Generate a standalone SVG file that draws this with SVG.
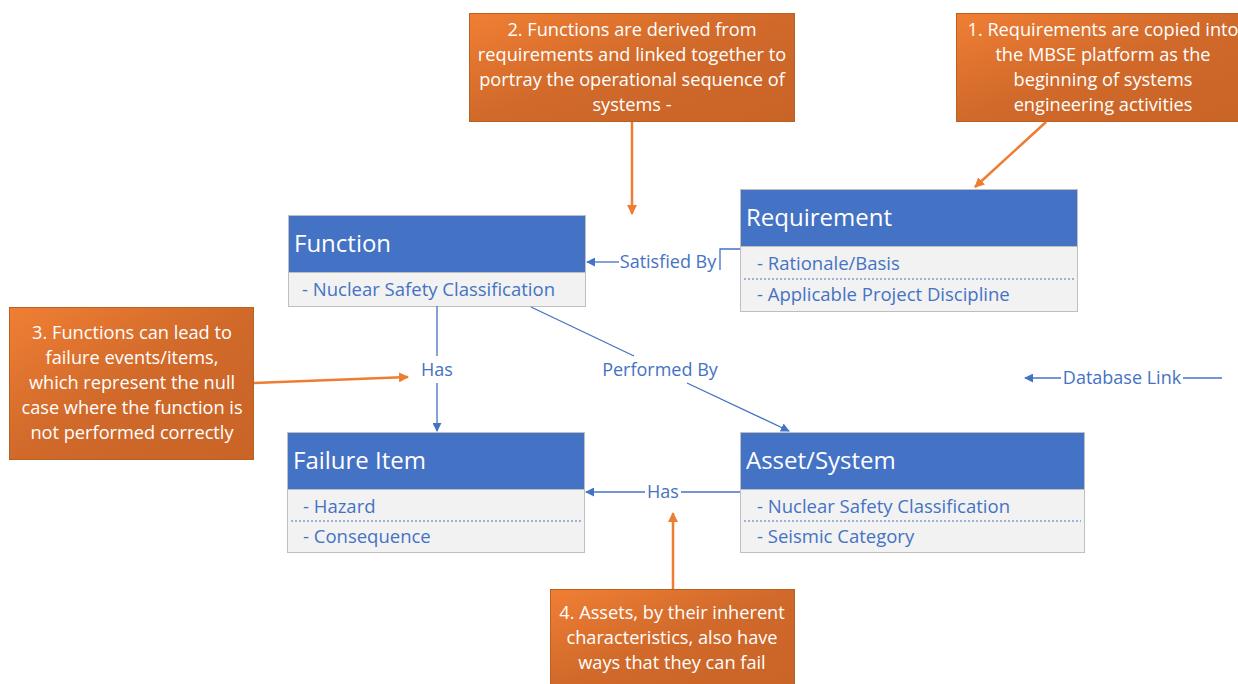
<svg xmlns="http://www.w3.org/2000/svg" width="1238" height="684" viewBox="0 0 1238 684">
<defs>
<linearGradient id="og" x1="0" y1="0" x2="1" y2="1">
<stop offset="0" stop-color="#F07F34"/>
<stop offset="0.5" stop-color="#D0692A"/>
<stop offset="1" stop-color="#C96427"/>
</linearGradient>
<marker id="ab" viewBox="0 0 10 10" refX="9" refY="5" markerWidth="9" markerHeight="9" markerUnits="userSpaceOnUse" orient="auto">
<path d="M0,0 L10,5 L0,10 z" fill="#4472C4"/>
</marker>
<marker id="ao" viewBox="0 0 10 10" refX="9" refY="5" markerWidth="10" markerHeight="10" markerUnits="userSpaceOnUse" orient="auto">
<path d="M0,0 L10,5 L0,10 z" fill="#ED7D31"/>
</marker>
</defs>
<style>
.hdr{fill:#4472C4;stroke:#BFBFBF;stroke-width:1}
.bdy{fill:#F2F2F2;stroke:#BFBFBF;stroke-width:1}
.ht{font-family:"Open Sans","Liberation Sans",sans-serif;font-size:24px;fill:#FFFFFF}
.bt{font-family:"Open Sans","Liberation Sans",sans-serif;font-size:18.5px;fill:#4472C4}
.sep{stroke:#4472C4;stroke-width:1;stroke-dasharray:2,2}
.co{fill:url(#og);stroke:#B8621F;stroke-width:1}
.ct{font-family:"Open Sans","Liberation Sans",sans-serif;font-size:18.2px;fill:#FFFFFF;text-anchor:middle}
.bl{stroke:#4472C4;stroke-width:1.3;fill:none}
.ol{stroke:#ED7D31;stroke-width:2.5;fill:none}
.lt{font-family:"Open Sans","Liberation Sans",sans-serif;font-size:18px;fill:#4472C4;text-anchor:middle}
</style>
<rect width="1238" height="684" fill="#FFFFFF"/>

<g id="callout1">
<rect class="co" x="956.5" y="13.5" width="290" height="108"/>
<text class="ct" x="1103" y="36">1. Requirements are copied into</text>
<text class="ct" x="1103" y="61">the MBSE platform as the</text>
<text class="ct" x="1103" y="86">beginning of systems</text>
<text class="ct" x="1103" y="111">engineering activities</text>
</g>

<g id="callout2">
<rect class="co" x="469.5" y="13.5" width="325" height="108"/>
<text class="ct" x="632" y="36">2. Functions are derived from</text>
<text class="ct" x="632" y="61">requirements and linked together to</text>
<text class="ct" x="632" y="86">portray the operational sequence of</text>
<text class="ct" x="632" y="111">systems -</text>
</g>

<g id="callout3">
<rect class="co" x="9.5" y="307.5" width="244" height="152"/>
<text class="ct" x="132" y="339">3. Functions can lead to</text>
<text class="ct" x="132" y="364">failure events/items,</text>
<text class="ct" x="132" y="389">which represent the null</text>
<text class="ct" x="132" y="414">case where the function is</text>
<text class="ct" x="132" y="439">not performed correctly</text>
</g>

<g id="callout4">
<rect class="co" x="550.5" y="589.5" width="244" height="100"/>
<text class="ct" x="672" y="619">4. Assets, by their inherent</text>
<text class="ct" x="672" y="644">characteristics, also have</text>
<text class="ct" x="672" y="669">ways that they can fail</text>
</g>

<g id="function">
<rect class="hdr" x="288.5" y="215.5" width="297" height="57"/>
<rect class="bdy" x="288.5" y="272.5" width="297" height="34"/>
<text class="ht" x="294" y="252">Function</text>
<text class="bt" x="302" y="296">- Nuclear Safety Classification</text>
</g>

<g id="requirement">
<rect class="hdr" x="740.5" y="189.5" width="337" height="57"/>
<rect class="bdy" x="740.5" y="246.5" width="337" height="65"/>
<text class="ht" x="746" y="226">Requirement</text>
<text class="bt" x="757" y="270">- Rationale/Basis</text>
<line class="sep" x1="744" y1="279" x2="1075" y2="279"/>
<text class="bt" x="757" y="301">- Applicable Project Discipline</text>
</g>

<g id="failure">
<rect class="hdr" x="287.5" y="432.5" width="297" height="57"/>
<rect class="bdy" x="287.5" y="489.5" width="297" height="63"/>
<text class="ht" x="293" y="469">Failure Item</text>
<text class="bt" x="303" y="513">- Hazard</text>
<line class="sep" x1="291" y1="521" x2="581" y2="521"/>
<text class="bt" x="303" y="543">- Consequence</text>
</g>

<g id="asset">
<rect class="hdr" x="740.5" y="432.5" width="344" height="57"/>
<rect class="bdy" x="740.5" y="489.5" width="344" height="63"/>
<text class="ht" x="746" y="469">Asset/System</text>
<text class="bt" x="757" y="513">- Nuclear Safety Classification</text>
<line class="sep" x1="744" y1="521" x2="1081" y2="521"/>
<text class="bt" x="757" y="543">- Seismic Category</text>
</g>

<g id="connectors">
<polyline class="bl" points="740,249 720,249 720,270"/>
<line class="bl" x1="619" y1="262" x2="587" y2="262" marker-end="url(#ab)"/>
<text class="lt" x="668" y="268">Satisfied By</text>

<line class="bl" x1="437" y1="306" x2="437" y2="356"/>
<line class="bl" x1="437" y1="383" x2="437" y2="431" marker-end="url(#ab)"/>
<text class="lt" x="437" y="376">Has</text>

<line class="bl" x1="531" y1="307" x2="634" y2="356"/>
<line class="bl" x1="687" y1="383" x2="789" y2="431" marker-end="url(#ab)"/>
<text class="lt" x="660" y="376">Performed By</text>

<line class="bl" x1="740" y1="492" x2="681" y2="492"/>
<line class="bl" x1="645" y1="492" x2="586" y2="492" marker-end="url(#ab)"/>
<text class="lt" x="663" y="498">Has</text>

<line class="bl" x1="1061" y1="378" x2="1025" y2="378" marker-end="url(#ab)"/>
<text class="lt" x="1122" y="384">Database Link</text>
<line class="bl" x1="1183" y1="378" x2="1222" y2="378"/>

<line class="ol" x1="632" y1="122" x2="632" y2="214" marker-end="url(#ao)"/>
<line class="ol" x1="1046" y1="122" x2="975" y2="187" marker-end="url(#ao)"/>
<line class="ol" x1="254" y1="383" x2="408" y2="377" marker-end="url(#ao)"/>
<line class="ol" x1="673" y1="589" x2="673" y2="513" marker-end="url(#ao)"/>
</g>
</svg>
